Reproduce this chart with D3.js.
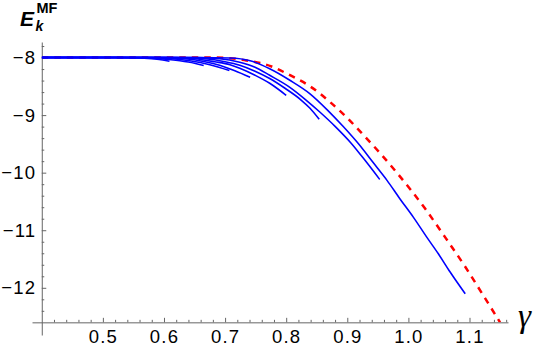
<!DOCTYPE html>
<html>
<head>
<meta charset="utf-8">
<script src="https://cdn.jsdelivr.net/npm/d3@7"></script>
<style>
  html, body { margin: 0; padding: 0; background: #fff; }
  svg { display: block; }
</style>
</head>
<body>
<div id="chart"></div>
<script>
// mean-field energy vs gamma
const redGamma = [0.400, 0.683, 0.732, 0.776, 0.804, 0.839, 0.872, 0.899, 0.926, 0.954, 0.981, 1.027, 1.060, 1.093, 1.123, 1.150];
const redEnergy = [-8.000, -8.000, -8.045, -8.155, -8.295, -8.500, -8.775, -9.040, -9.340, -9.665, -10.000, -10.620, -11.120, -11.635, -12.140, -12.600];

const blueGamma = [
  [0.400, 0.519, 0.560, 0.585, 0.598, 0.609],
  [0.400, 0.544, 0.593, 0.626, 0.650, 0.665],
  [0.400, 0.568, 0.609, 0.642, 0.675, 0.707],
  [0.400, 0.585, 0.634, 0.667, 0.691, 0.716, 0.741],
  [0.400, 0.601, 0.650, 0.683, 0.708, 0.724, 0.749, 0.773, 0.800],
  [0.400, 0.618, 0.667, 0.700, 0.724, 0.749, 0.773, 0.798, 0.823, 0.839, 0.854],
  [0.400, 0.642, 0.691, 0.724, 0.749, 0.773, 0.806, 0.831, 0.855, 0.880, 0.907, 0.929, 0.953],
  [0.400, 0.659, 0.708, 0.741, 0.773, 0.806, 0.839, 0.868, 0.893, 0.919, 0.942, 0.965, 0.986, 1.008, 1.030, 1.049, 1.068, 1.093]
];
const blueEnergy = [
  [-8, -8.000, -8.009, -8.026, -8.043, -8.064],
  [-8, -8.000, -8.021, -8.056, -8.099, -8.139],
  [-8, -8.000, -8.017, -8.056, -8.125, -8.226],
  [-8, -8.000, -8.021, -8.073, -8.134, -8.230, -8.343],
  [-8, -8.000, -8.021, -8.073, -8.125, -8.186, -8.308, -8.447, -8.656],
  [-8, -8.000, -8.021, -8.073, -8.134, -8.238, -8.365, -8.534, -8.725, -8.882, -9.073],
  [-8, -8.000, -8.021, -8.082, -8.169, -8.308, -8.517, -8.725, -8.946, -9.195, -9.496, -9.786, -10.117],
  [-8, -8.000, -8.009, -8.056, -8.195, -8.395, -8.630, -8.917, -9.195, -9.508, -9.821, -10.134, -10.452, -10.772, -11.120, -11.409, -11.722, -12.104]
];

const xTicks = [0.5, 0.6, 0.7, 0.8, 0.9, 1.0, 1.1];
const xTickLabels = ["0.5", "0.6", "0.7", "0.8", "0.9", "1.0", "1.1"];
const yTicks = [-8, -9, -10, -11, -12];
const yTickLabels = ["\u22128", "\u22129", "\u221210", "\u221211", "\u221212"];

const width = 540;
const height = 352;
const axisColor = "#666";
const labelFont = "'Liberation Sans', Arial, sans-serif";

const x = d3.scaleLinear().domain([0.384, 1.163]).range([32, 508]);
const y = d3.scaleLinear().domain([-12.82, -7.73]).range([335, 42]);

const xOrigin = 0.4;
const yOrigin = -12.6;

const svg = d3.select("#chart")
  .append("svg")
  .attr("width", width)
  .attr("height", height);

svg.append("defs")
  .append("clipPath")
  .attr("id", "plot-clip")
  .append("rect")
  .attr("x", x(xOrigin))
  .attr("y", 0)
  .attr("width", width - x(xOrigin))
  .attr("height", y(yOrigin));

// minor ticks every 0.02 / 0.2
const xMinor = d3.range(0.42, 1.17, 0.02).filter(v => !xTicks.some(t => Math.abs(t - v) < 1e-6));
const yMinor = d3.range(-12.4, -7.7, 0.2).filter(v => !yTicks.some(t => Math.abs(t - v) < 1e-6));

function styleAxis(g) {
  g.select(".domain").attr("stroke", axisColor).attr("stroke-width", 1);
  g.selectAll(".tick line").attr("stroke", axisColor).attr("stroke-width", 1);
  g.selectAll(".tick text")
    .attr("fill", "#000")
    .style("font-family", labelFont)
    .style("font-size", "18.5px")
    .style("letter-spacing", "1.2px");
}

// x axis
svg.append("g")
  .attr("transform", "translate(0," + y(yOrigin) + ")")
  .call(d3.axisBottom(x).tickValues(xMinor).tickSize(-2.5).tickSizeOuter(0).tickFormat(""))
  .call(g => g.select(".domain").remove())
  .call(styleAxis);

svg.append("g")
  .attr("transform", "translate(0," + y(yOrigin) + ")")
  .call(d3.axisBottom(x).tickValues(xTicks).tickSize(-4.5).tickSizeOuter(0).tickPadding(8)
    .tickFormat((d, i) => xTickLabels[i]))
  .call(styleAxis);

// y axis
svg.append("g")
  .attr("transform", "translate(" + x(xOrigin) + ",0)")
  .call(d3.axisLeft(y).tickValues(yMinor).tickSize(-2.5).tickSizeOuter(0).tickFormat(""))
  .call(g => g.select(".domain").remove())
  .call(styleAxis);

svg.append("g")
  .attr("transform", "translate(" + x(xOrigin) + ",0)")
  .call(d3.axisLeft(y).tickValues(yTicks).tickSize(-4.5).tickSizeOuter(0).tickPadding(5.5)
    .tickFormat((d, i) => yTickLabels[i]))
  .call(styleAxis);

const plot = svg.append("g").attr("clip-path", "url(#plot-clip)");

const line = d3.line()
  .x(d => x(d[0]))
  .y(d => y(d[1]))
  .curve(d3.curveMonotoneX);

plot.append("path")
  .datum(d3.zip(redGamma, redEnergy))
  .attr("fill", "none")
  .attr("stroke", "#ff0000")
  .attr("stroke-width", 2.5)
  .attr("stroke-dasharray", "6.5,6")
  .attr("d", line);

blueGamma.forEach((g, i) => {
  plot.append("path")
    .datum(d3.zip(g, blueEnergy[i]))
    .attr("fill", "none")
    .attr("stroke", "#0000ff")
    .attr("stroke-width", 1.6)
    .attr("d", line);
});

// axis labels
const eLabel = svg.append("text")
  .attr("fill", "#000")
  .style("font-family", labelFont)
  .style("font-weight", "bold");

eLabel.append("tspan")
  .attr("x", 20)
  .attr("y", 25.5)
  .style("font-size", "21px")
  .style("font-style", "italic")
  .text("E");

eLabel.append("tspan")
  .attr("x", 35.5)
  .attr("y", 31)
  .style("font-size", "14px")
  .style("font-style", "italic")
  .text("k");

eLabel.append("tspan")
  .attr("x", 36.5)
  .attr("y", 13)
  .style("font-size", "14.5px")
  .text("MF");

svg.append("text")
  .attr("x", 518)
  .attr("y", 327)
  .attr("fill", "#000")
  .style("font-family", "'Liberation Serif', 'Times New Roman', serif")
  .style("font-style", "italic")
  .style("font-size", "33px")
  .text("\u03b3");
</script>
</body>
</html>
